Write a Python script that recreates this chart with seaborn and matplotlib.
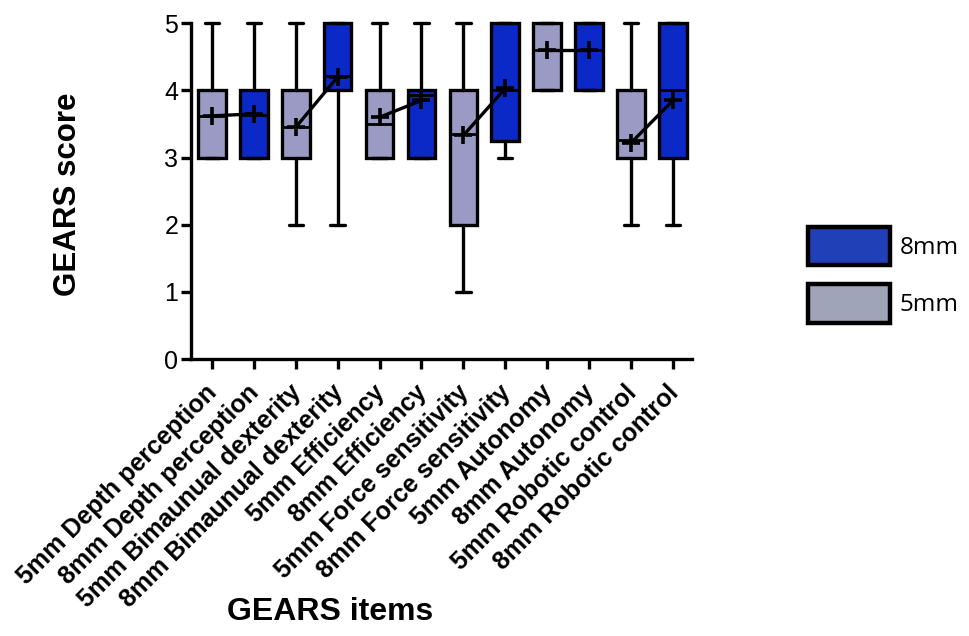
import matplotlib
matplotlib.use("Agg")
import matplotlib.pyplot as plt
import matplotlib.patches as mpatches
import matplotlib.transforms as mtransforms
import seaborn as sns
import pandas as pd

items = ["5mm Depth perception", "8mm Depth perception",
         "5mm Bimaunual dexterity", "8mm Bimaunual dexterity",
         "5mm Efficiency", "8mm Efficiency",
         "5mm Force sensitivity", "8mm Force sensitivity",
         "5mm Autonomy", "8mm Autonomy",
         "5mm Robotic control", "8mm Robotic control"]
groups = ["5mm", "8mm"] * 6
whisk_lo = [3, 3, 2, 2, 3, 3, 1, 3, 4, 4, 2, 2]
q1 =       [3, 3, 3, 4, 3, 3, 2, 3.25, 4, 4, 3, 3]
median =   [3.62, 3.63, 3.45, 4.21, 3.5, 3.93, 3.35, 4, 4.6, 4.6, 3.26, 4]
q3 =       [4, 4, 4, 5, 4, 4, 4, 5, 5, 5, 4, 5]
whisk_hi = [5, 5, 5, 5, 5, 5, 5, 5, 5, 5, 5, 5]
means =    [3.62, 3.65, 3.45, 4.2, 3.6, 3.85, 3.33, 4.03, 4.6, 4.6, 3.22, 3.85]

colors = {"5mm": "#9a9ac4", "8mm": "#0b29c6"}

sns.set_theme(style="ticks")
plt.rcParams['font.family'] = ['Liberation Sans', 'DejaVu Sans']
plt.rcParams['text.color'] = 'black'
plt.rcParams['axes.labelcolor'] = 'black'
plt.rcParams['xtick.color'] = 'black'
plt.rcParams['ytick.color'] = 'black'

fig = plt.figure(figsize=(9.69, 6.36), dpi=100)
ax = fig.add_axes([0.197, 0.4355, 0.517, 0.528])

stats = []
for i in range(len(items)):
    stats.append(dict(whislo=whisk_lo[i], q1=q1[i], med=median[i], q3=q3[i],
                      whishi=whisk_hi[i], fliers=[], label=items[i]))
bp = ax.bxp(stats, positions=list(range(len(items))), widths=0.66,
            patch_artist=True, showfliers=False,
            boxprops=dict(linewidth=2.4, edgecolor="black"),
            whiskerprops=dict(linewidth=2.4, color="black"),
            capprops=dict(linewidth=2.4, color="black"),
            medianprops=dict(linewidth=2.0, color="black"),
            capwidths=0.34)
for patch, g in zip(bp["boxes"], groups):
    patch.set_facecolor(colors[g])
for art in bp["boxes"] + bp["whiskers"] + bp["caps"] + bp["medians"]:
    art.set_clip_on(False)

df = pd.DataFrame({"pos": list(range(len(items))), "mean": means,
                   "pair": [i // 2 for i in range(len(items))]})
sns.lineplot(data=df, x="pos", y="mean", units="pair", estimator=None,
             color="black", linewidth=2.4, marker="+", markersize=13,
             markeredgewidth=2.6, markeredgecolor="black", ax=ax, legend=False)
for ln in ax.lines:
    ln.set_clip_on(False)

ax.set_ylim(0, 5)
ax.set_xlim(-0.5, 11.45)
ax.set_yticks([0, 1, 2, 3, 4, 5])
ax.set_xticks(list(range(len(items))))
ax.set_xticklabels(items, rotation=45, ha="right", rotation_mode="anchor",
                   fontsize=18, fontweight="bold")
ax.tick_params(axis="y", labelsize=18, width=2.4, length=7, direction="out", pad=2)
ax.tick_params(axis="x", width=2.4, length=7, direction="out", pad=7)
shift = mtransforms.ScaledTranslation(-7 / 100, -2 / 100, fig.dpi_scale_trans)
for lab in ax.get_xticklabels():
    lab.set_transform(lab.get_transform() + shift)
for s in ["top", "right"]:
    ax.spines[s].set_visible(False)
for s in ["left", "bottom"]:
    ax.spines[s].set_linewidth(2.4)
    ax.spines[s].set_color("black")

ax.set_ylabel("GEARS score", fontsize=22.5, fontweight="bold")
ax.yaxis.set_label_coords(-0.2156, 0.49)
ax.set_xlabel("")
fig.text(0.341, 0.025, "GEARS items", fontsize=23, fontweight="bold",
         ha="center", va="baseline")

handles = [mpatches.Patch(facecolor="#2040b8", edgecolor="black", linewidth=3.2, label="8mm"),
           mpatches.Patch(facecolor="#a0a4b8", edgecolor="black", linewidth=3.2, label="5mm")]
fig.legend(handles=handles, loc="upper left", bbox_to_anchor=(0.834, 0.643),
           frameon=False, handlelength=3.35, handleheight=2.05,
           prop={"family": "Open Sans", "size": 17.5}, labelspacing=0.78,
           handletextpad=0.4, borderaxespad=0, borderpad=0)

fig.savefig("out.png", dpi=100)
